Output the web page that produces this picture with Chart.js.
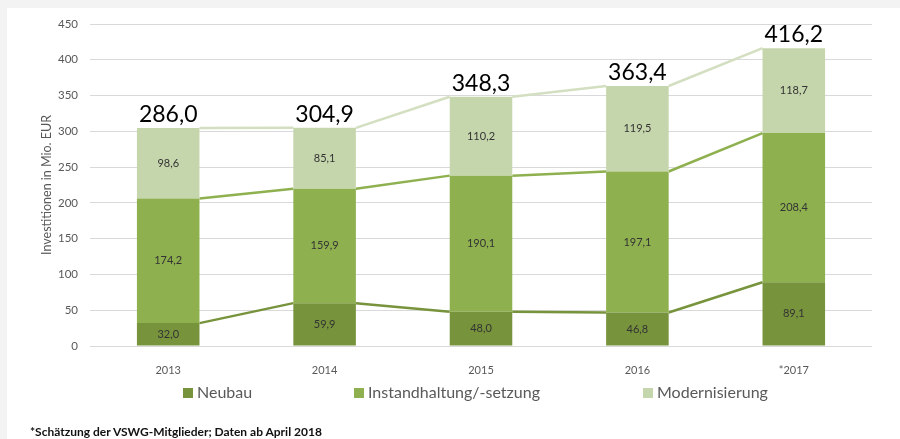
<!DOCTYPE html>
<html>
<head>
<meta charset="utf-8">
<script src="https://cdn.jsdelivr.net/npm/chart.js@4"></script>
<style>
	html, body { margin: 0; padding: 0; background: #f3f3f3; }
	#wrap { position: absolute; left: 7px; top: 8px; width: 893px; height: 431px; background: #fff; }
	#chart { position: absolute; left: -7px; top: -8px; }
	#note { position: absolute; left: 23px; top: 416px; font: bold 12px Lato, sans-serif; color: #111; white-space: nowrap; }
</style>
</head>
<body>
<div id="wrap">
	<canvas id="chart" width="900" height="439"></canvas>
	<div id="note">*Schätzung der VSWG-Mitglieder; Daten ab April 2018</div>
</div>
<script>
'use strict';

const years = ['2013', '2014', '2015', '2016', '*2017'];
const neubau = [32.0, 59.9, 48.0, 46.8, 89.1];
const instandhaltung = [174.2, 159.9, 190.1, 197.1, 208.4];
const modernisierung = [98.6, 85.1, 110.2, 119.5, 118.7];
// totals as printed in the source (2013 is printed as 286,0)
const totals = [286.0, 304.9, 348.3, 363.4, 416.2];
const seriesNames = ['Neubau', 'Instandhaltung/-setzung', 'Modernisierung'];
const barColors = ['#77933c', '#8eb04f', '#c6d6ac'];
const lineColors = ['#77933c', '#8eb04f', '#d3dfc0'];

const fmt = function (v) {
	return v.toFixed(1).replace('.', ',');
};

// Excel style series lines between the bars
const seriesLines = {
	id: 'seriesLines',
	beforeDatasetsDraw(chart) {
		const ctx = chart.ctx;
		ctx.save();
		ctx.lineWidth = 2.5;
		chart.data.datasets.forEach(function (ds, d) {
			const bars = chart.getDatasetMeta(d).data;
			ctx.strokeStyle = lineColors[d];
			for (let i = 0; i < bars.length - 1; ++i) {
				const a = bars[i];
				const b = bars[i + 1];
				ctx.beginPath();
				ctx.moveTo(a.x + a.width / 2, a.y);
				ctx.lineTo(b.x - b.width / 2, b.y);
				ctx.stroke();
			}
		});
		ctx.restore();
	}
};

// value labels inside segments, totals on top, and legend
const labelsPlugin = {
	id: 'labelsPlugin',
	afterDatasetsDraw(chart) {
		const ctx = chart.ctx;
		ctx.save();
		ctx.textAlign = 'center';
		ctx.textBaseline = 'middle';
		ctx.font = '11px Lato, sans-serif';
		ctx.fillStyle = '#333';
		chart.data.datasets.forEach(function (ds, d) {
			const bars = chart.getDatasetMeta(d).data;
			bars.forEach(function (bar, i) {
				ctx.fillText(fmt(ds.data[i]), bar.x, (bar.y + bar.base) / 2);
			});
		});

		const last = chart.getDatasetMeta(chart.data.datasets.length - 1).data;
		ctx.font = '23px Lato, sans-serif';
		ctx.fillStyle = '#000';
		ctx.textBaseline = 'alphabetic';
		last.forEach(function (bar, i) {
			ctx.fillText(fmt(totals[i]), bar.x, bar.y - 6);
		});

		// legend
		const legendX = [183, 354, 643];
		ctx.font = '16px Lato, sans-serif';
		ctx.textAlign = 'left';
		ctx.textBaseline = 'middle';
		chart.data.datasets.forEach(function (ds, d) {
			ctx.fillStyle = barColors[d];
			ctx.fillRect(legendX[d], 388, 10, 10);
			ctx.fillStyle = '#595959';
			ctx.fillText(ds.label, legendX[d] + 14, 393);
		});
		ctx.restore();
	}
};

const chart = new Chart(document.getElementById('chart'), {
	type: 'bar',
	data: {
		labels: years,
		datasets: [
			{ label: seriesNames[0], data: neubau, backgroundColor: barColors[0] },
			{ label: seriesNames[1], data: instandhaltung, backgroundColor: barColors[1] },
			{ label: seriesNames[2], data: modernisierung, backgroundColor: barColors[2] }
		]
	},
	options: {
		responsive: false,
		animation: false,
		events: [],
		categoryPercentage: 1,
		barPercentage: 0.4,
		layout: { padding: { left: 39, right: 28, top: 24, bottom: 63 } },
		plugins: {
			legend: { display: false },
			tooltip: { enabled: false }
		},
		scales: {
			x: {
				stacked: true,
				grid: { display: false },
				border: { display: false },
				ticks: { color: '#595959', font: { family: 'Lato', size: 11 }, padding: 10 },
				afterFit(scale) { scale.height = 30; }
			},
			y: {
				stacked: true,
				min: 0,
				max: 450,
				ticks: { stepSize: 50, color: '#595959', font: { family: 'Lato', size: 11.5 }, padding: 12 },
				grid: { color: '#d9d9d9', drawTicks: false, lineWidth: 1 },
				border: { display: false },
				title: {
					display: true,
					text: 'Investitionen in Mio. EUR',
					color: '#595959',
					font: { family: 'Lato', size: 12.5 },
					padding: 0
				},
				afterFit(scale) { scale.width = 51; }
			}
		}
	},
	plugins: [seriesLines, labelsPlugin]
});
</script>
</body>
</html>
